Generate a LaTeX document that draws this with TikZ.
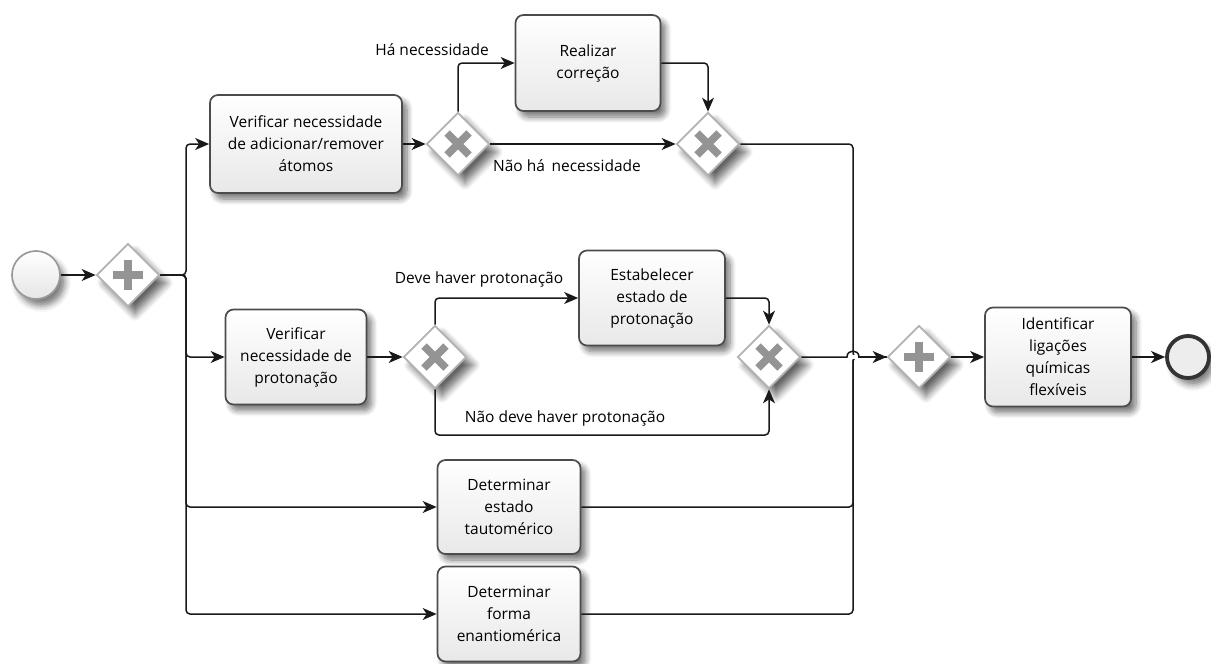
\documentclass[tikz,border=0pt]{standalone}
\usepackage{fontspec}
\setmainfont{Open Sans}
\usetikzlibrary{shapes.geometric,arrows.meta,shadows.blur}

\begin{document}
\begin{tikzpicture}[x=1pt,y=-1pt,
  txt/.style={font=\fontsize{15.5}{22}\selectfont},
  task/.style={txt, draw=black!70, line width=1.7pt, rounded corners=8pt,
    top color=white, bottom color=black!9, align=center, inner sep=0pt,
    blur shadow={shadow xshift=5pt, shadow yshift=-6pt, shadow blur radius=6pt, shadow blur steps=8, shadow opacity=55}},
  gate/.style={diamond, aspect=1, minimum width=63pt, minimum height=63pt, inner sep=0pt,
    draw=black!30, line width=1.7pt, fill=white,
    blur shadow={shadow xshift=7pt, shadow yshift=-8pt, shadow blur radius=7pt, shadow blur steps=8, shadow opacity=60}},
  pgate/.style={gate, path picture={
    \draw[line width=8pt, black!42]
      ([xshift=-15pt]path picture bounding box.center) -- ([xshift=15pt]path picture bounding box.center)
      ([yshift=-15pt]path picture bounding box.center) -- ([yshift=15pt]path picture bounding box.center);}},
  xgate/.style={gate, path picture={
    \draw[line width=7.5pt, black!42]
      ([xshift=-11pt,yshift=-11pt]path picture bounding box.center) -- ([xshift=11pt,yshift=11pt]path picture bounding box.center)
      ([xshift=-11pt,yshift=11pt]path picture bounding box.center) -- ([xshift=11pt,yshift=-11pt]path picture bounding box.center);}},
  flow/.style={line width=1.5pt, black!90, rounded corners=4pt},
  arr/.style={flow, -{Stealth[length=14pt,width=12pt,inset=4pt]}},
  lbl/.style={txt, inner sep=0pt}
]
\useasboundingbox (0,0) rectangle (1211,664);

% events
\node[circle, minimum size=48pt, inner sep=0pt, draw=black!40, line width=1.7pt,
  top color=white, bottom color=black!10,
  blur shadow={shadow xshift=5pt, shadow yshift=-7pt, shadow blur radius=6pt, shadow opacity=50}] (start) at (36,275) {};
\node[circle, minimum size=42pt, inner sep=0pt, draw=black!80, line width=3.8pt,
  fill=black!7,
  blur shadow={shadow xshift=5pt, shadow yshift=-7pt, shadow blur radius=6pt, shadow opacity=50}] (end) at (1188,357) {};

% gateways
\node[pgate] (g1) at (128,275) {};
\node[xgate] (x1) at (458,144) {};
\node[xgate] (x2) at (708,144) {};
\node[xgate] (x3) at (435,357) {};
\node[xgate] (x4) at (769,357) {};
\node[pgate] (g2) at (919,357) {};

% tasks
\node[task, minimum width=192pt, minimum height=98pt] (t1) at (306,144)
  {Verificar necessidade\\de adicionar/remover\\átomos};
\node[task, minimum width=145pt, minimum height=96pt] (rc) at (588,63)
  {Realizar\\correção};
\node[task, minimum width=141pt, minimum height=95pt] (t2) at (296,357)
  {Verificar\\necessidade de\\protonação};
\node[task, minimum width=146pt, minimum height=95pt] (ep) at (652,298)
  {Estabelecer\\estado de\\protonação};
\node[task, minimum width=143pt, minimum height=94pt] (ta) at (509,507)
  {Determinar\\estado\\tautomérico};
\node[task, minimum width=143pt, minimum height=95pt] (en) at (509,614)
  {Determinar\\forma\\enantiomérica};
\node[task, minimum width=146pt, minimum height=99pt] (id) at (1058,357)
  {Identificar\\ligações\\químicas\\flexíveis};

% routing columns and rows
\coordinate (lx) at (186,0);
\coordinate (rx) at (853,0);
\coordinate (by) at (0,435);

% start and parallel split
\draw[arr] (start) -- (g1);
\draw[arr] (g1.east) -- (lx |- g1.east) -- (lx |- t1.west) -- (t1.west);
\draw[arr] (g1.east) -- (lx |- g1.east) -- (lx |- t2.west) -- (t2.west);
\draw[arr] (g1.east) -- (lx |- g1.east) -- (lx |- ta.west) -- (ta.west);
\draw[arr] (g1.east) -- (lx |- g1.east) -- (lx |- en.west) -- (en.west);

% atom correction branch
\draw[arr] (t1) -- (x1);
\draw[arr] (x1.north) -- (x1.north |- rc.west) -- (rc.west);
\draw[arr] (rc.east) -- (x2.north |- rc.east) -- (x2.north);
\draw[arr] (x1.east) -- (x2.west);
\node[lbl, anchor=east] (lh) at (489,50) {Há necessidade};
\node[lbl] (ln) at (567,166) {Não há\, necessidade};

% protonation branch
\draw[arr] (t2) -- (x3);
\draw[arr] (x3.north) -- (x3.north |- ep.west) -- (ep.west);
\draw[arr] (ep.east) -- (x4.north |- ep.east) -- (x4.north);
\draw[arr] (x3.south) -- (x3.south |- by) -- (x4.south |- by) -- (x4.south);
\node[lbl] (ld) at (479,279) {Deve haver protonação};
\node[lbl] (lnd) at (565,418) {Não deve haver protonação};

% parallel join
\draw[flow] (x2.east) -- (rx |- x2.east) -- (rx |- g2.west) -- (g2.west);
\draw[flow] (ta.east) -- (rx |- ta.east) -- (rx |- g2.west) -- (g2.west);
\draw[flow] (en.east) -- (rx |- en.east) -- (rx |- g2.west) -- (g2.west);
\draw[line width=3.5pt, white] ([xshift=-5pt]rx |- x4.east) -- ([xshift=5pt]rx |- x4.east);
\draw[arr, rounded corners=0pt] (x4.east) -- ([xshift=-6pt]rx |- x4.east)
  .. controls +(0,-8) and +(0,-8) .. ([xshift=6pt]rx |- x4.east) -- (g2.west);

% end
\draw[arr] (g2) -- (id);
\draw[arr] (id) -- (end);
\end{tikzpicture}
\end{document}
